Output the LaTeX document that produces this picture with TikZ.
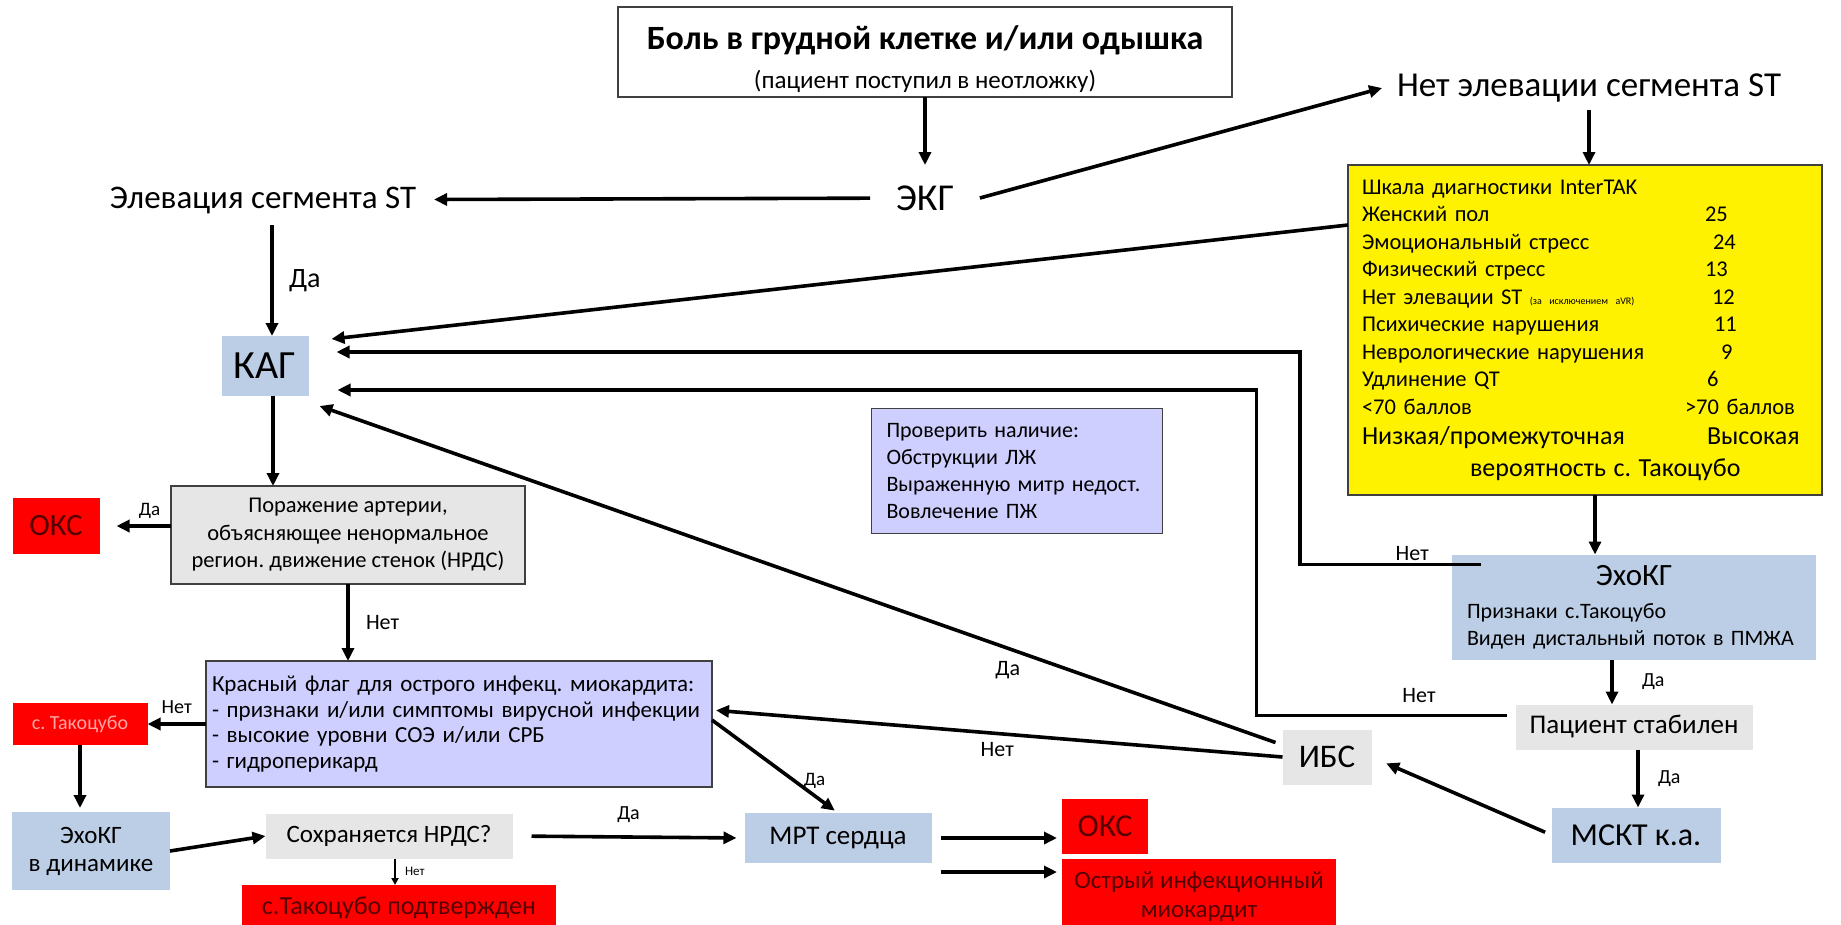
\documentclass[tikz,border=0pt]{standalone}
\usepackage{fontspec}
\setmainfont{Carlito}
\usetikzlibrary{arrows.meta}
\definecolor{kagblue}{RGB}{188,206,230}
\definecolor{lightgr}{RGB}{230,230,230}
\definecolor{lavend}{RGB}{206,206,255}
\definecolor{okred}{RGB}{255,0,0}
\definecolor{darkred}{RGB}{85,0,0}
\definecolor{pinktxt}{RGB}{255,165,165}
\definecolor{frame}{RGB}{64,64,64}

\begin{document}
\frenchspacing
\begin{tikzpicture}[x=1pt,y=-1pt,
		every node/.style={inner sep=0pt,outer sep=0pt},
		arr/.style={line width=3.6pt,-{Triangle[length=13pt,width=12pt]}},
		lbl/.style={font=\fontsize{22}{26}\selectfont},
		boxed/.style={draw=frame,line width=1.5pt}]
		\useasboundingbox (0,0) rectangle (1841,924);
		\node[boxed,minimum width=614pt,minimum height=90pt,align=center,font=\fontsize{25}{39}\selectfont] (pain) at (925,52) {\rule{0pt}{38pt}{\bfseries\fontsize{34}{39}\selectfont Боль в грудной клетке и/или одышка}\\(пациент поступил в неотложку)};
		\node[inner xsep=26pt,minimum height=66pt,font=\fontsize{38}{44}\selectfont] (ecg) at (925,198) {ЭКГ};
		\node[inner xsep=18pt,minimum height=50pt,font=\fontsize{33}{38}\selectfont] (stup) at (263,200) {Элевация сегмента ST};
		\node[inner xsep=15pt,minimum height=44pt,font=\fontsize{35}{40}\selectfont] (nost) at (1589,88) {Нет элевации сегмента ST};
		\node[boxed,fill=yellow,minimum width=474pt,minimum height=330pt,inner xsep=14pt,text width=446pt,align=left,font=\fontsize{22.5}{27.5}\selectfont] (scale) at (1585,330) {Шкала диагностики InterTAK\\
			\makebox[343pt][l]{Женский пол}25\\
			\makebox[351pt][l]{Эмоциональный стресс}24\\
			\makebox[343pt][l]{Физический стресс}13\\
			\makebox[350pt][l]{Нет элевации ST {\fontsize{10}{11}\selectfont(за исключением aVR)}}12\\
			\makebox[352pt][l]{Психические нарушения}11\\
			\makebox[359pt][l]{Неврологические нарушения}9\\
			\makebox[345pt][l]{Удлинение QT}6\\
			\makebox[323pt][l]{<70 баллов}>70 баллов\\[2.5pt]
			{\fontsize{26}{27.5}\selectfont\makebox[345pt][l]{Низкая/промежуточная}Высокая}\\[4.5pt]
			{\fontsize{26}{27.5}\selectfont\hspace*{108pt}вероятность с. Такоцубо}};
		\node[fill=kagblue,minimum width=87pt,minimum height=60pt,font=\fontsize{40}{46}\selectfont] (kag) at (265,366) {КАГ};
		\node[boxed,fill=lightgr,minimum width=354pt,minimum height=98pt,align=center,font=\fontsize{22.5}{27.5}\selectfont] (lesion) at (348,535) {Поражение артерии,\\объясняющее ненормальное\\регион. движение стенок (НРДС)};
		\node[fill=okred,text=darkred,minimum width=87pt,minimum height=56pt,font=\fontsize{31}{36}\selectfont] (oks1) at (56,526) {ОКС};
		\node[boxed,fill=lavend,minimum width=506pt,minimum height=126pt,inner xsep=6pt,text width=494pt,align=left,font=\fontsize{23}{25.5}\selectfont] (flag) at (459,724) {Красный флаг для острого инфекц. миокардита:\\- признаки и/или симптомы вирусной инфекции\\- высокие уровни СОЭ и/или СРБ\\- гидроперикард};
		\node[fill=okred,text=pinktxt,minimum width=135pt,minimum height=42pt,font=\fontsize{20}{24}\selectfont] (tako) at (80,724) {с. Такоцубо};
		\node[fill=kagblue,minimum width=158pt,minimum height=78pt,align=center,font=\fontsize{25}{28}\selectfont] (echodyn) at (91,851) {ЭхоКГ\\в динамике};
		\node[fill=lightgr,minimum width=247pt,minimum height=45pt,font=\fontsize{25}{30}\selectfont] (keep) at (389,836) {Сохраняется НРДС?};
		\node[fill=okred,text=darkred,minimum width=314pt,minimum height=46pt,font=\fontsize{26}{30}\selectfont] (confirm) at (399,908) {с.Такоцубо подтвержден};
		\node[fill=kagblue,minimum width=187pt,minimum height=50pt,font=\fontsize{27}{32}\selectfont] (mri) at (838,838) {МРТ сердца};
		\node[fill=okred,text=darkred,minimum width=86pt,minimum height=55pt,font=\fontsize{32}{36}\selectfont] (oks2) at (1105,826) {ОКС};
		\node[fill=okred,text=darkred,minimum width=274pt,minimum height=76pt,align=center,font=\fontsize{25}{29}\selectfont] (myo) at (1199,897) {Острый инфекционный\\миокардит};
		\node[boxed,fill=lavend,minimum width=291pt,minimum height=125pt,inner xsep=15pt,text width=261pt,align=left,font=\fontsize{22}{27.3}\selectfont] (check) at (1017,471) {Проверить наличие:\\Обструкции ЛЖ\\Выраженную митр недост.\\Вовлечение ПЖ};
		\node[fill=kagblue,minimum width=364pt,minimum height=105pt,inner xsep=15pt,text width=334pt,align=left,font=\fontsize{22}{27}\selectfont] (echo) at (1634,607) {\makebox[334pt][c]{\fontsize{31}{27}\selectfont ЭхоКГ}\\[6pt]Признаки с.Такоцубо\\Виден дистальный поток в ПМЖА};
		\node[fill=lightgr,minimum width=237pt,minimum height=45pt,font=\fontsize{27}{32}\selectfont] (stable) at (1634,727) {Пациент стабилен};
		\node[fill=kagblue,minimum width=169pt,minimum height=55pt,font=\fontsize{32}{38}\selectfont] (msct) at (1636,835) {МСКТ к.а.};
		\node[fill=lightgr,minimum width=89pt,minimum height=55pt,font=\fontsize{33}{38}\selectfont] (ihd) at (1327,757) {ИБС};
		\draw[arr] (pain) -- (ecg);
		\draw[arr] (ecg) -- (stup);
		\draw[arr] (ecg.east) -- (nost.west);
		\draw[arr] (nost.south) -- (nost.south |- scale.north);
		\draw[arr] ([xshift=10pt]scale.south) -- ([xshift=10pt]scale.south |- echo.north);
		\draw[arr] ([xshift=9pt]stup.south) -- ([xshift=9pt]stup.south |- kag.north) node[midway,right=17pt,font=\fontsize{28}{32}\selectfont] {Да};
		\draw[arr] ([xshift=8pt]kag.south) -- ([xshift=8pt]kag.south |- lesion.north);
		\draw[arr,shorten >=17pt] (oks1.east -| lesion.west) -- (oks1.east) node[pos=0.3,above=8pt,font=\fontsize{19}{22}\selectfont] {Да};
		\draw[arr] (lesion) -- (lesion |- flag.north) node[lbl,midway,right=18pt] {Нет};
		\draw[arr] (tako.east -| flag.west) -- (tako.east) node[midway,above=10pt,font=\fontsize{20}{24}\selectfont] {Нет};
		\draw[arr,shorten >=4pt] (tako.south) -- (tako.south |- echodyn.north);
		\draw[arr] (echodyn.east) -- (keep.west);
		\draw[line width=2pt,-{Triangle[length=7pt,width=7pt]}] ([xshift=6pt]keep.south) -- ([xshift=6pt]keep.south |- confirm.north) node[midway,right=10pt,font=\fontsize{13}{15}\selectfont] {Нет};
		\draw[arr,shorten <=19pt,shorten >=8pt] (keep.east) -- (mri.west) node[midway,above=14pt,font=\fontsize{20}{24}\selectfont] {Да};
		\draw[arr,shorten >=4pt] ([yshift=4pt]flag.east) -- (mri.north) node[pos=0.65,right=10pt,font=\fontsize{19}{22}\selectfont] {Да};
		\draw[arr,shorten <=9pt,shorten >=5pt] (mri.east) -- (mri.east -| oks2.west);
		\draw[arr,shorten <=9pt,shorten >=5pt] ([yshift=-9pt]mri.south east) -- ([yshift=-9pt]mri.south east -| myo.west);
		\draw[arr] ([yshift=-60pt]scale.north west) -- ([shift={(23pt,27pt)}]kag.east);
		\draw[arr] ([shift={(29pt,-10pt)}]echo.north west) -- node[lbl,pos=0.38,above=4pt] {Нет} ++(-181,0) |- ([shift={(28pt,14pt)}]kag.east);
		\draw[arr] ([shift={(-9pt,-11pt)}]stable.north west) -- node[lbl,pos=0.35,above=13pt] {Нет} ++(-250,0) |- ([shift={(29pt,-24pt)}]kag.east);
		\draw[arr] ([shift={(-7pt,-13pt)}]ihd.north west) -- ([shift={(11pt,-40pt)}]kag.east) node[lbl,pos=0.28,below=13pt] {Да};
		\draw[arr,shorten >=4pt] (ihd.west) -- ([yshift=14pt]flag.east) node[lbl,midway,below=9pt] {Нет};
		\draw[arr,shorten <=7pt,shorten >=16pt] (msct.west) -- (ihd.east);
		\draw[arr] ([xshift=-22pt]echo.south) -- ([xshift=-22pt]echo.south |- stable.north) node[midway,right=30pt,font=\fontsize{20}{24}\selectfont] {Да};
		\draw[arr] ([xshift=4pt]stable.south) -- ([xshift=4pt]stable.south |- msct.north) node[midway,right=20pt,font=\fontsize{20}{24}\selectfont] {Да};
\end{tikzpicture}
\end{document}
